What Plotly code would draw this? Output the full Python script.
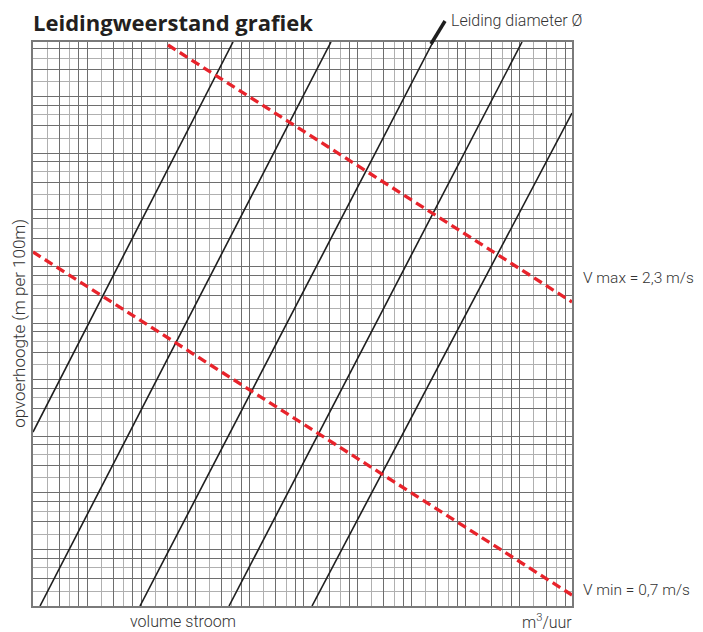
import plotly.graph_objects as go

# ---- data (Q in m3/uur, h in m per 100m) ----
diam_q_start = [0.1, 0.1094, 0.394, 1.233, 3.572]
diam_h_start = [0.842, 0.1, 0.1, 0.1, 0.1]
diam_q_end = [1.298, 4.556, 16.84, 52.7, 100]
diam_h_end = [100, 100, 100, 100, 41.9]

vmax_q = [0.564, 100]
vmax_h = [96.4, 4.14]
vmin_q = [0.1, 100]
vmin_h = [7.64, 0.1144]

# grid layout of the log paper
group_bases = [0.1 * 2 ** k for k in range(10)]
dark_mult = [1.0, 1.4, 1.8]
light_mult = [1.2, 1.6]
dark_vals = [b * m for b in group_bases for m in dark_mult if b * m <= 100]
light_vals = [b * m for b in group_bases for m in light_mult if b * m <= 100]

NARROW = "Roboto, Liberation Sans, sans-serif"
TXT = "#333333"

fig = go.Figure()

for qs, hs, qe, he in zip(diam_q_start, diam_h_start, diam_q_end, diam_h_end):
    fig.add_trace(go.Scatter(x=[qs, qe], y=[hs, he], mode="lines",
                             line=dict(color="#1e1e1e", width=1.6),
                             hoverinfo="skip", showlegend=False))

for q, h in ((vmax_q, vmax_h), (vmin_q, vmin_h)):
    fig.add_trace(go.Scatter(x=q, y=h, mode="lines",
                             line=dict(color="#e8232b", width=3.3, dash="9px,5px"),
                             hoverinfo="skip", showlegend=False))

axis_common = dict(
    type="log", range=[-1, 2], showticklabels=False, ticks="",
    tickmode="array", showgrid=True, gridcolor="#6e6e6e", gridwidth=1.4,
    showline=True, linecolor="#7a7a7a", linewidth=1.5, mirror=True,
    zeroline=False, fixedrange=True,
)
fig.update_xaxes(**axis_common, tickvals=dark_vals,
                 minor=dict(tickmode="array", tickvals=light_vals, showgrid=True,
                            gridcolor="#b0b0b0", gridwidth=1.4, ticks=""))
fig.update_yaxes(**axis_common, tickvals=dark_vals,
                 minor=dict(tickmode="array", tickvals=light_vals, showgrid=True,
                            gridcolor="#b0b0b0", gridwidth=1.4, ticks=""))

ann = [
    dict(text="<b>Leidingweerstand grafiek</b>", x=-0.004, y=1.035, xanchor="left", yanchor="middle",
         font=dict(family="Open Sans, Lato, sans-serif", size=22, color="#231f20", weight=800)),
    dict(text="Leiding diameter Ø", x=0.7718, y=1.039, xanchor="left", yanchor="middle",
         font=dict(family=NARROW, size=16, color=TXT, weight=300)),
    dict(text="V max = 2,3 m/s", x=1.0175, y=0.5816, xanchor="left", yanchor="middle",
         font=dict(family=NARROW, size=15.5, color=TXT, weight=300)),
    dict(text="V min = 0,7 m/s", x=1.0175, y=0.0284, xanchor="left", yanchor="middle",
         font=dict(family=NARROW, size=15.5, color=TXT, weight=300)),
    dict(text="volume stroom", x=0.278, y=-0.028, xanchor="center", yanchor="middle",
         font=dict(family=NARROW, size=16, color=TXT, weight=300)),
    dict(text="m<sup>3</sup>/uur", x=0.954, y=-0.028, xanchor="center", yanchor="middle",
         font=dict(family=NARROW, size=16, color=TXT, weight=300)),
    dict(text="opvoerhoogte (m per 100m)", x=-0.026, y=0.502, xanchor="center", yanchor="middle",
         textangle=-90, font=dict(family=NARROW, size=17, color=TXT, weight=300)),
]
for a in ann:
    a.update(xref="paper", yref="paper", showarrow=False)
fig.update_layout(annotations=ann)

fig.add_shape(type="line", xref="paper", yref="paper",
              x0=0.7384, y0=0.9965, x1=0.7644, y1=1.0372,
              line=dict(color="#1e1e1e", width=3.5))

# page body has an 8px default margin, so the figure is 8px smaller
fig.update_layout(
    width=695, height=624,
    margin=dict(l=25, r=131, t=34, b=26),
    paper_bgcolor="white", plot_bgcolor="white",
    showlegend=False,
)

fig.write_html("out.html")
